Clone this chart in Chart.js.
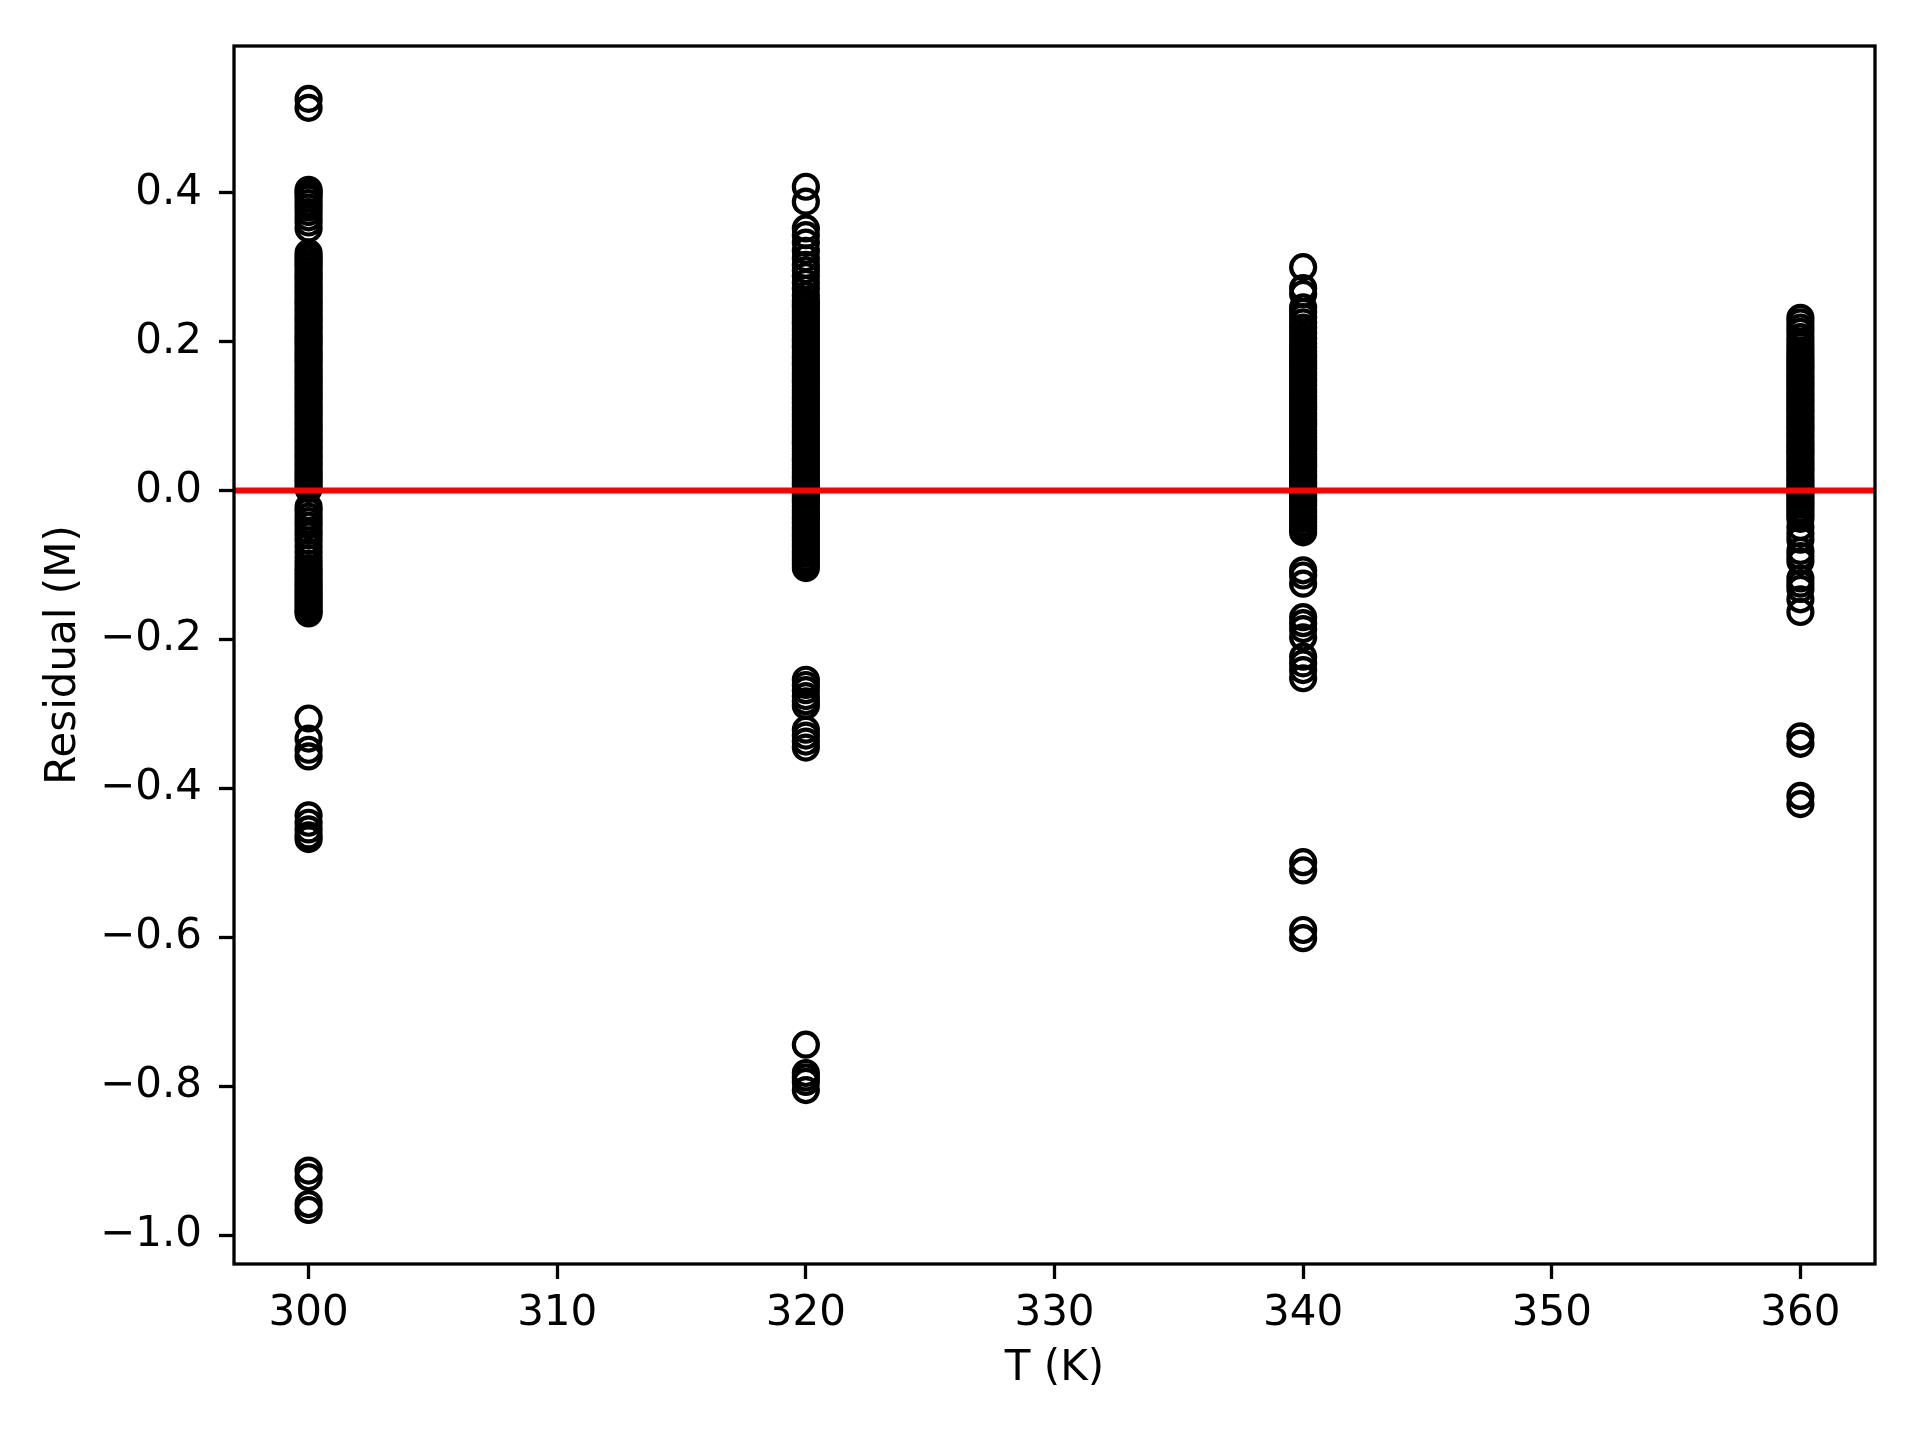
<!DOCTYPE html>
<html><head><meta charset="utf-8">
<script src="https://cdn.jsdelivr.net/npm/chart.js@4"></script>
<style>html,body{margin:0;padding:0;background:#fff}#wrap{width:1920px;height:1440px}</style>
</head><body><div id="wrap"><canvas id="c" width="1920" height="1440"></canvas></div>
<script>
const temperatures = [300, 320, 340, 360];
const residuals300 = [0.526, 0.514,
 0.404, 0.401, 0.397, 0.392, 0.386, 0.380, 0.374, 0.367, 0.360, 0.352,
 0.319, 0.314, 0.310, 0.305, 0.301, 0.296, 0.291, 0.287, 0.282, 0.277, 0.273, 0.268, 0.264, 0.259, 0.254, 0.250, 0.245, 0.241, 0.236, 0.231, 0.227, 0.222, 0.218, 0.213, 0.208, 0.204, 0.199, 0.195, 0.190, 0.185, 0.181, 0.176, 0.172, 0.167, 0.162, 0.158, 0.153, 0.149, 0.144, 0.139, 0.135, 0.130, 0.126, 0.121, 0.116, 0.112, 0.107, 0.103, 0.098, 0.093, 0.089, 0.084, 0.080, 0.075, 0.070, 0.066, 0.061, 0.057, 0.052, 0.047, 0.043, 0.038, 0.034, 0.029, 0.024, 0.020, 0.015, 0.011, 0.006, 0.002,
 -0.022, -0.028, -0.035, -0.041, -0.047, -0.054, -0.060, -0.067, -0.075, -0.083, -0.091, -0.098, -0.104, -0.109, -0.114, -0.119, -0.124, -0.128, -0.133, -0.137, -0.142, -0.146, -0.150, -0.154, -0.158, -0.162, -0.165,
 -0.306, -0.333, -0.348, -0.357,
 -0.436, -0.446, -0.455, -0.463, -0.468,
 -0.913, -0.922, -0.958, -0.966];
const residuals320 = [0.408, 0.388,
 0.352, 0.343, 0.333, 0.322, 0.312, 0.303, 0.296, 0.288, 0.279, 0.271, 0.262,
 0.255, 0.250, 0.246, 0.241, 0.237, 0.232, 0.227, 0.223, 0.218, 0.214, 0.209, 0.204, 0.200, 0.195, 0.191, 0.186, 0.181, 0.177, 0.172, 0.168, 0.163, 0.158, 0.154, 0.149, 0.145, 0.140, 0.135, 0.131, 0.126, 0.122, 0.117, 0.112, 0.108, 0.103, 0.099, 0.094, 0.089, 0.085, 0.080, 0.076, 0.071, 0.066, 0.062, 0.057, 0.053, 0.048, 0.043, 0.039, 0.034, 0.030, 0.025, 0.020, 0.016, 0.011, 0.007, 0.002, -0.003, -0.007, -0.012, -0.016, -0.021, -0.026, -0.030, -0.035, -0.039, -0.044, -0.049, -0.053, -0.058, -0.062, -0.067, -0.072, -0.076, -0.081, -0.085, -0.090, -0.095, -0.099, -0.104,
 -0.254, -0.261, -0.268, -0.276, -0.283, -0.289,
 -0.321, -0.329, -0.337, -0.345,
 -0.744, -0.782, -0.788, -0.794, -0.805];
const residuals340 = [0.300, 0.272, 0.264,
 0.246, 0.240, 0.233, 0.226, 0.219, 0.212, 0.205, 0.198, 0.192,
 0.187, 0.182, 0.178, 0.173, 0.169, 0.164, 0.159, 0.155, 0.150, 0.146, 0.141, 0.136, 0.132, 0.127, 0.123, 0.118, 0.113, 0.109, 0.104, 0.100, 0.095, 0.090, 0.086, 0.081, 0.077, 0.072, 0.067, 0.063, 0.058, 0.054, 0.049, 0.044, 0.040, 0.035, 0.031, 0.026, 0.021, 0.017, 0.012, 0.008, 0.003, -0.002, -0.006, -0.011, -0.015, -0.020, -0.025, -0.029, -0.034, -0.038, -0.043, -0.048, -0.052, -0.056,
 -0.107, -0.114, -0.125,
 -0.170, -0.178, -0.186, -0.197, -0.223, -0.232, -0.241, -0.252,
 -0.499, -0.510, -0.590, -0.601];
const residuals360 = [0.232, 0.226, 0.219, 0.213, 0.206, 0.200, 0.194, 0.188, 0.183,
 0.178, 0.174, 0.169, 0.165, 0.160, 0.155, 0.151, 0.146, 0.142, 0.137, 0.132, 0.128, 0.123, 0.119, 0.114, 0.109, 0.105, 0.100, 0.096, 0.091, 0.086, 0.082, 0.077, 0.073, 0.068, 0.063, 0.059, 0.054, 0.050, 0.045, 0.040, 0.036, 0.031, 0.027, 0.022, 0.017, 0.013, 0.008, 0.004, -0.001, -0.006, -0.010, -0.015, -0.019, -0.024, -0.029, -0.033, -0.038,
 -0.049, -0.058, -0.066, -0.081, -0.088, -0.095, -0.118, -0.125, -0.132, -0.146, -0.163,
 -0.330, -0.340, -0.410, -0.421];
const xTicks = [300, 310, 320, 330, 340, 350, 360];
const yTicks = [-1.0, -0.8, -0.6, -0.4, -0.2, 0.0, 0.2, 0.4];
const xLimits = [297, 363];
const yLimits = [-1.0385, 0.597];
const referenceLevel = 0;

const residualColumns = [residuals300, residuals320, residuals340, residuals360];
const scatterData = [];
residualColumns.forEach((col, i) => col.forEach(v => scatterData.push({x: temperatures[i], y: v})));

Chart.defaults.font.family = 'DejaVu Sans';
Chart.defaults.font.size = 42;
Chart.defaults.color = '#000';

const framePlugin = {
  id: 'frame',
  afterDatasetsDraw(chart) {
    const {ctx, chartArea: a} = chart;
    ctx.save();
    ctx.strokeStyle = '#000';
    ctx.lineWidth = 3.3;
    ctx.strokeRect(a.left, a.top, a.right - a.left, a.bottom - a.top);
    ctx.restore();
  }
};

const fmt = v => v.toFixed(1).replace('-', '\u2212');

new Chart(document.getElementById('c'), {
  type: 'scatter',
  data: {
    datasets: [
      {
        type: 'line',
        data: [{x: xLimits[0], y: referenceLevel}, {x: xLimits[1], y: referenceLevel}],
        borderColor: '#ff0000',
        borderWidth: 6,
        pointRadius: 0,
        fill: false
      },
      {
        data: scatterData,
        pointStyle: 'circle',
        pointRadius: 12,
        pointBorderWidth: 4.2,
        pointBorderColor: '#000',
        pointBackgroundColor: 'rgba(0,0,0,0)'
      }
    ]
  },
  options: {
    responsive: false,
    animation: false,
    devicePixelRatio: 1,
    layout: {padding: {left: 0, right: 45, top: 46, bottom: 0}},
    plugins: {legend: {display: false}, tooltip: {enabled: false}},
    scales: {
      x: {
        type: 'linear',
        min: xLimits[0], max: xLimits[1],
        afterBuildTicks: s => { s.ticks = xTicks.map(v => ({value: v})); },
        afterFit: s => { s.height = 176; },
        border: {display: false},
        grid: {drawOnChartArea: false, drawTicks: true, tickLength: 15, tickWidth: 3.3, tickColor: '#000', color: '#000'},
        ticks: {padding: 10, callback: v => String(v), maxRotation: 0, autoSkip: false},
        title: {display: true, text: 'T (K)', padding: {top: 0, bottom: 46}}
      },
      y: {
        type: 'linear',
        min: yLimits[0], max: yLimits[1],
        afterBuildTicks: s => { s.ticks = yTicks.map(v => ({value: v})); },
        afterFit: s => { s.width = 234; },
        border: {display: false},
        grid: {drawOnChartArea: false, drawTicks: true, tickLength: 15, tickWidth: 3.3, tickColor: '#000', color: '#000'},
        ticks: {padding: 17, callback: v => fmt(v), autoSkip: false},
        title: {display: true, text: 'Residual (M)', padding: {top: 39, bottom: 0}}
      }
    }
  },
  plugins: [framePlugin]
});
</script></body></html>
